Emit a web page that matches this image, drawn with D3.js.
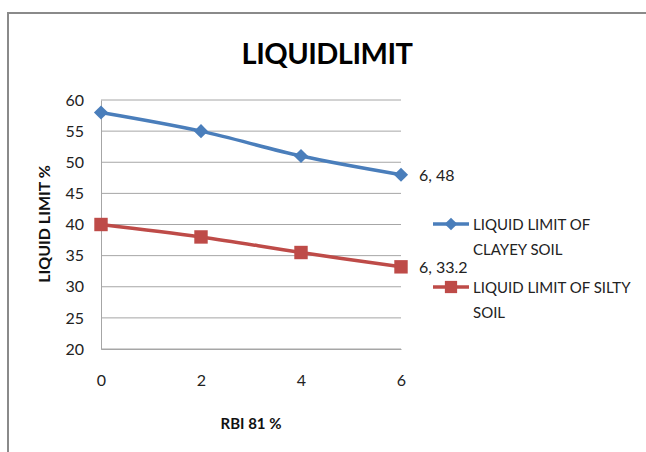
<!DOCTYPE html>
<html>
<head>
<meta charset="utf-8">
<script src="https://cdn.jsdelivr.net/npm/d3@7"></script>
<style>
  html, body { margin: 0; padding: 0; background: #fff; }
  svg { display: block; font-family: Lato, "Open Sans", sans-serif; }
</style>
</head>
<body>
<svg id="chart" width="646" height="452"></svg>
<script>
// Liquid limit versus RBI 81 % content for two soils
const rbi = [0, 2, 4, 6];
const clayey = [58, 55, 51, 48];
const silty = [40, 38, 35.5, 33.2];
const yTicks = [20, 25, 30, 35, 40, 45, 50, 55, 60];
const xTicks = [0, 2, 4, 6];
const seriesNames = ["LIQUID LIMIT OF CLAYEY SOIL", "LIQUID LIMIT OF SILTY SOIL"];
const legendLines = [["LIQUID LIMIT OF", "CLAYEY SOIL"], ["LIQUID LIMIT OF SILTY", "SOIL"]];

const svg = d3.select("#chart");

// outer frame
svg.append("path")
  .attr("d", "M8,452 L8,13 L646,13")
  .attr("fill", "none").attr("stroke", "#8a8a8a").attr("stroke-width", 2);

const x = d3.scaleLinear().domain([0, 6]).range([101, 401]);
const y = d3.scaleLinear().domain([20, 60]).range([349, 100]);

// horizontal gridlines
svg.append("g").selectAll("line").data(yTicks).join("line")
  .attr("x1", x(0)).attr("x2", x(6))
  .attr("y1", d => y(d)).attr("y2", d => y(d))
  .attr("stroke", "#a6a6a6").attr("stroke-width", 1);

// axes
const yAxis = svg.append("g").attr("transform", `translate(${x(0)},0)`)
  .call(d3.axisLeft(y).tickValues(yTicks).tickFormat(d3.format("d")).tickSize(0).tickPadding(17));
const xAxis = svg.append("g").attr("transform", `translate(0,${y(20)})`)
  .call(d3.axisBottom(x).tickValues(xTicks).tickFormat(d3.format("d")).tickSize(0).tickPadding(26));
[yAxis, xAxis].forEach(g => {
  g.select(".domain").attr("stroke", "#a6a6a6").attr("stroke-width", 1);
  g.selectAll("text").attr("font-size", 16).attr("fill", "#222")
    .attr("font-family", "Lato, 'Open Sans', sans-serif");
});

// title and axis titles
svg.append("text").attr("x", 327).attr("y", 64).attr("text-anchor", "middle")
  .attr("font-size", 29).attr("font-weight", "bold").attr("fill", "#000")
  .attr("letter-spacing", -0.5)
  .text("LIQUIDLIMIT");
svg.append("text").attr("x", 251).attr("y", 429).attr("text-anchor", "middle")
  .attr("font-size", 15).attr("font-weight", "bold").attr("fill", "#111")
  .text("RBI 81 %");
svg.append("text").attr("transform", "translate(50,224) rotate(-90)")
  .attr("text-anchor", "middle")
  .attr("font-size", 16).attr("font-weight", "bold").attr("fill", "#111")
  .text("LIQUID LIMIT %");

const colors = ["#4a7ebb", "#be4b48"];
const line = d3.line().x(d => x(d[0])).y(d => y(d[1])).curve(d3.curveCatmullRom.alpha(0.5));
const allSeries = [clayey, silty];

// diamond = square turned 45 degrees; square as is
const marker = (i, size) => d3.symbol().type(d3.symbolSquare).size(size)();
const markerRot = i => (i === 0 ? " rotate(45)" : "");

allSeries.forEach((vals, i) => {
  const pts = rbi.map((r, k) => [r, vals[k]]);
  svg.append("path").datum(pts).attr("d", line)
    .attr("fill", "none").attr("stroke", colors[i]).attr("stroke-width", 3.5)
    .attr("stroke-linejoin", "round");
  svg.append("g").selectAll("path").data(pts).join("path")
    .attr("transform", d => `translate(${x(d[0])},${y(d[1])})${markerRot(i)}`)
    .attr("d", marker(i, i === 0 ? 100 : 180))
    .attr("fill", colors[i]);
  // value label on the last point
  const last = pts[pts.length - 1];
  svg.append("text").attr("x", x(last[0]) + 18).attr("y", y(last[1]) + 6)
    .attr("font-size", 16).attr("fill", "#222")
    .text(`${last[0]}, ${last[1]}`);
});

// legend
const legendY = [224, 287];
seriesNames.forEach((name, i) => {
  const g = svg.append("g").attr("transform", `translate(433,${legendY[i]})`);
  g.append("line").attr("x1", 0).attr("x2", 36).attr("y1", 0).attr("y2", 0)
    .attr("stroke", colors[i]).attr("stroke-width", 3.5);
  g.append("path").attr("transform", `translate(18,0)${markerRot(i)}`)
    .attr("d", marker(i, i === 0 ? 80 : 150))
    .attr("fill", colors[i]);
  const t = g.append("text").attr("x", 40).attr("y", 6)
    .attr("font-size", 15).attr("fill", "#222");
  legendLines[i].forEach((s, k) => {
    t.append("tspan").attr("x", 40).attr("dy", k === 0 ? 0 : 25).text(s);
  });
});
</script>
</body>
</html>
